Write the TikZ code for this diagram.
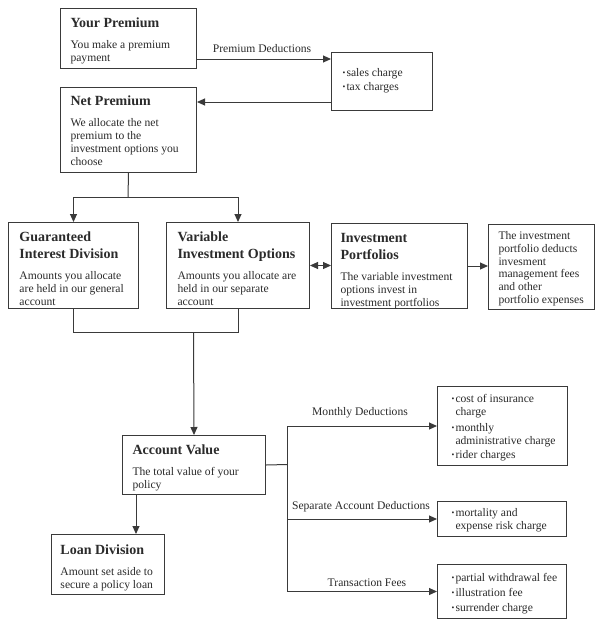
\documentclass[tikz,border=0pt]{standalone}
\usepackage{fontspec}
\setmainfont{Liberation Serif}
\usetikzlibrary{arrows.meta}
\definecolor{ink}{HTML}{2B2B2B}
\definecolor{edge}{HTML}{3A3A3A}
\newcommand{\boxtext}[5]{\parbox[c][#2pt][t]{#1pt}{\parskip=0pt\parindent=0pt\leftskip=#3pt\rightskip=0pt plus 1fil\relax\rule{0pt}{#4pt}#5\par}}
\newcommand{\ttl}[1]{{\fontsize{14}{17}\selectfont\bfseries #1\par}\vspace{8pt}}
\newcommand{\bdy}{\fontsize{11.6}{13}\selectfont}
\newcommand{\bul}{\makebox[4pt][l]{\raisebox{0.6pt}{\fontsize{8}{8}\selectfont\textbullet}}}
\newcommand{\itm}[1]{\hangindent=4pt\hangafter=1\bul#1\par}
\begin{document}
\begin{tikzpicture}[x=1pt,y=-1pt,
  box/.style={draw=edge, line width=1pt, inner sep=0pt, anchor=north west, text=ink, font=\bdy},
  lbl/.style={inner sep=0pt, text=ink, font=\bdy},
  ln/.style={draw=edge, line width=1pt},
  arr/.style={ln, -{Triangle[length=8pt,width=7pt]}},
  dbl/.style={ln, {Triangle[length=8pt,width=7pt]}-{Triangle[length=8pt,width=7pt]}}]
\useasboundingbox (0,0) rectangle (600,619);
\fill[white] (0,0) rectangle (600,619);

\node[box] (yp) at (60,8) {\boxtext{136}{60}{10}{18.5}{\ttl{Your Premium}You make a premium\\payment}};
\node[box] (sales) at (331,52) {\boxtext{101}{58}{11}{24}{\baselineskip=14pt\itm{sales charge}\itm{tax charges}}};
\node[box] (np) at (60,87) {\boxtext{136}{85}{10}{17.5}{\ttl{Net Premium}We allocate the net\\premium to the\\investment options you\\choose}};

\node[box] (gid) at (8,222) {\boxtext{130}{86}{11}{18.5}{\ttl{Guaranteed\\Interest Division}Amounts you allocate\\are held in our general\\account}};
\node[box] (vio) at (166,222) {\boxtext{143}{86}{11}{18.5}{\ttl{Variable\\Investment Options}Amounts you allocate are\\held in our separate\\account}};
\node[box] (ip) at (331,223) {\boxtext{136}{85}{9}{18.5}{\ttl{Investment\\Portfolios}The variable investment\\options invest in\\investment portfolios}};
\node[box] (rb) at (488,224) {\boxtext{106}{85}{10}{15}{\baselineskip=12.8pt The investment\\portfolio deducts\\invesment\\management fees\\and other\\portfolio expenses}};

\node[box] (av) at (122,435) {\boxtext{143}{59}{10}{18.5}{\ttl{Account Value}The total value of your\\policy}};
\node[box] (loan) at (51,534) {\boxtext{113}{60}{9}{19.5}{\ttl{Loan Division}Amount set aside to\\secure a policy loan}};

\node[box] (md) at (437,386) {\boxtext{130}{79}{14}{16}{\itm{cost of insurance\\charge}\vspace{3pt}\itm{monthly\\administrative charge}\vspace{1pt}\itm{rider charges}}};
\node[box] (mr) at (437,501) {\boxtext{129}{35}{14}{15}{\itm{mortality and\\expense risk charge}}};
\node[box] (tf) at (437,564) {\boxtext{129}{54}{14}{17}{\itm{partial withdrawal fee}\vspace{2pt}\itm{illustration fee}\vspace{2pt}\itm{surrender charge}}};

% connectors
\draw[arr] (yp.east |- 0,59) -- (sales.west |- 0,59);
\node[lbl] (l1) at (262,49) {Premium Deductions};
\draw[arr] (sales.west |- 0,102) -- (np.east |- 0,102);

\coordinate (s1) at (128,197);
\draw[ln] (np.south) -- (s1);
\draw[arr] (s1) -| (gid.north);
\draw[arr] (s1) -| (vio.north);

\draw[dbl] (vio.east) -- (vio.east -| ip.west);
\draw[arr] (ip.east) -- (ip.east -| rb.west);

\coordinate (m1) at (193.5,332);
\draw[ln] (gid.south) |- (vio.south |- m1) -- (vio.south);
\draw[arr] (m1) -- (av.north);

\draw[arr] (av.south -| 136,0) -- (loan.north -| 136,0);

\coordinate (b1) at (287,464.5);
\draw[ln] (av.east) -- (b1);
\draw[arr] (b1) |- (md.west);
\draw[arr] (b1) |- (mr.west);
\draw[arr] (b1) |- (tf.west);
\node[lbl] (l2) at (360,413) {Monthly Deductions};
\node[lbl] (l3) at (361,507) {Separate Account Deductions};
\node[lbl] (l4) at (367,583) {Transaction Fees};
\end{tikzpicture}
\end{document}
